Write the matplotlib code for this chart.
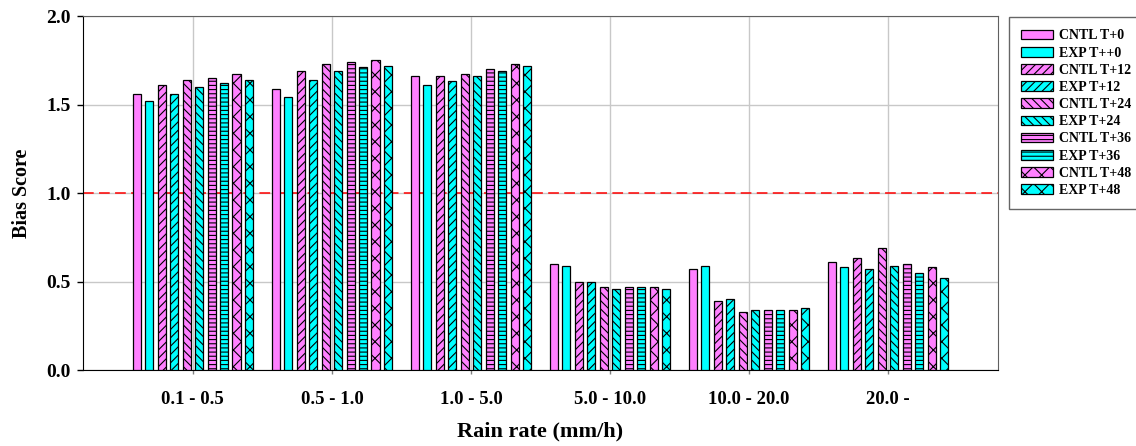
import numpy as np
import matplotlib
matplotlib.use("Agg")
import matplotlib.pyplot as plt

# rain-rate classes on the x axis
rain_classes = ["0.1 - 0.5", "0.5 - 1.0", "1.0 - 5.0", "5.0 - 10.0", "10.0 - 20.0", "20.0 -"]

series_names = [
    "CNTL T+0", "EXP T++0", "CNTL T+12", "EXP T+12", "CNTL T+24",
    "EXP T+24", "CNTL T+36", "EXP T+36", "CNTL T+48", "EXP T+48",
]

# bias score per forecast lead, one row per series, one column per rain class
cntl_t0 = [1.56, 1.59, 1.66, 0.60, 0.57, 0.61]
exp_t0 = [1.52, 1.54, 1.61, 0.59, 0.59, 0.58]
cntl_t12 = [1.61, 1.69, 1.66, 0.50, 0.39, 0.63]
exp_t12 = [1.56, 1.64, 1.63, 0.50, 0.40, 0.57]
cntl_t24 = [1.64, 1.73, 1.67, 0.47, 0.33, 0.69]
exp_t24 = [1.60, 1.69, 1.66, 0.46, 0.34, 0.59]
cntl_t36 = [1.65, 1.74, 1.70, 0.47, 0.34, 0.60]
exp_t36 = [1.62, 1.71, 1.69, 0.47, 0.34, 0.55]
cntl_t48 = [1.67, 1.75, 1.73, 0.47, 0.34, 0.58]
exp_t48 = [1.64, 1.72, 1.72, 0.46, 0.35, 0.52]

values = [cntl_t0, exp_t0, cntl_t12, exp_t12, cntl_t24,
          exp_t24, cntl_t36, exp_t36, cntl_t48, exp_t48]

PINK = "#ff80ff"
CYAN = "#00ffff"
colors = [PINK, CYAN] * 5
hatches = ["", "", "////", "////", "\\\\\\\\", "\\\\\\\\", "----", "----", "xx", "xx"]

plt.rcParams["font.family"] = ["Liberation Serif", "DejaVu Serif"]
plt.rcParams["font.weight"] = "bold"
plt.rcParams["hatch.linewidth"] = 0.8

fig = plt.figure(figsize=(11.36, 4.46), dpi=100)
ax = fig.add_axes([0.0731, 0.1704, 0.8052, 0.7937])

x = np.arange(len(rain_classes))
pitch = 0.0897
width = 0.058

for i, (name, vals) in enumerate(zip(series_names, values)):
    ax.bar(x + (i - 4.5) * pitch, vals, width=width, color=colors[i],
           edgecolor="black", linewidth=0.9, hatch=hatches[i],
           label=name, zorder=3)

ax.axhline(1.0, color="#ff0000", linestyle=(0, (7, 3.5)), linewidth=1.1, zorder=2)

ax.set_xlim(-0.79, 5.79)
ax.set_ylim(0, 2.0)
ax.set_yticks([0, 0.5, 1.0, 1.5, 2.0])
ax.set_yticklabels(["0.0", "0.5", "1.0", "1.5", "2.0"])
ax.set_xticks(x)
ax.set_xticklabels(rain_classes)

ax.grid(True, color="#c8c8c8", linewidth=1.0, zorder=0)
ax.set_axisbelow(True)

for side in ["left", "bottom"]:
    ax.spines[side].set_color("black")
for side in ["top", "right"]:
    ax.spines[side].set_color("#606060")

ax.tick_params(axis="y", direction="out", length=4, width=1, labelsize=14, pad=5)
ax.tick_params(axis="x", direction="out", length=3, width=1, color="#808080",
               labelsize=13.5, pad=12)
for lbl in ax.get_xticklabels() + ax.get_yticklabels():
    lbl.set_fontweight("bold")

ax.set_xlabel("Rain rate (mm/h)", fontsize=16, fontweight="bold", labelpad=10)
ax.set_ylabel("Bias Score", fontsize=14.5, fontweight="bold", labelpad=10)

leg = fig.legend(loc="upper left", bbox_to_anchor=(0.888, 0.962),
                 fontsize=10, prop={"weight": "bold", "size": 10},
                 frameon=True, fancybox=False, borderpad=0.9,
                 handlelength=2.25, handleheight=0.7, labelspacing=0.3,
                 handletextpad=0.5, borderaxespad=0)
leg.get_frame().set_edgecolor("#404040")
leg.get_frame().set_linewidth(1.0)

fig.savefig("out.png", dpi=100)
